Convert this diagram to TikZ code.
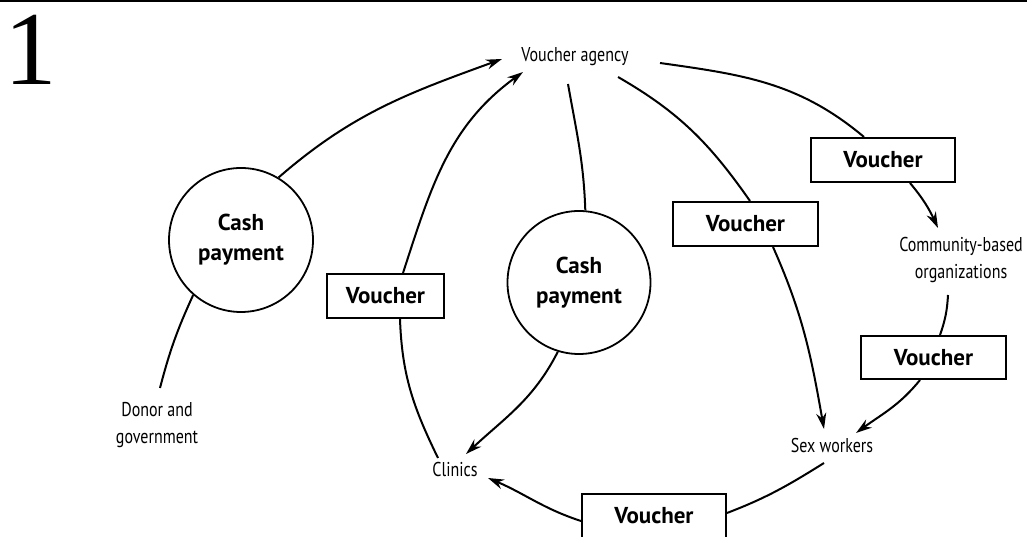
\documentclass[tikz,border=0pt]{standalone}
\usepackage{fontspec}
\newfontfamily\ptsans{PT Sans}
\newfontfamily\labfnt[FakeStretch=0.8]{PT Sans}
\newfontfamily\numfnt{Liberation Serif}
\usetikzlibrary{arrows.meta}
\newcommand\boldlab{\ptsans\bfseries\fontsize{23}{30}\selectfont}
\newcommand\thinlab{\labfnt\fontsize{20}{27}\selectfont}
\tikzset{
  conn/.style={line width=2pt},
  arr/.style={conn,-{Stealth[length=16pt,width=10pt]}},
  vbox/.style={draw,line width=2pt,minimum height=44pt,inner sep=0pt,font=\boldlab},
  cash/.style={draw,circle,line width=1.8pt,inner sep=0pt,align=center,font=\boldlab},
  lab/.style={font=\thinlab,align=center,inner sep=0pt},
}
\begin{document}
\begin{tikzpicture}[x=1pt,y=1pt]
\useasboundingbox (0,0) rectangle (1027,537);
\draw[line width=3pt] (0,536) -- (1027,536);
\node[anchor=base,inner sep=0pt,font=\numfnt\fontsize{105}{105}\selectfont] (num) at (30.5,452) {1};
% nodes
\node[lab] (agency) at (575,480) {Voucher agency};
\node[cash,minimum size=144pt] (cp1) at (241,297) {Cash\\payment};
\node[cash,minimum size=143pt] (cp2) at (579,254.5) {Cash\\payment};
\node[vbox,minimum width=117pt] (vA) at (385.5,241) {Voucher};
\node[vbox,minimum width=145pt] (vB) at (745.5,313) {Voucher};
\node[vbox,minimum width=144pt] (vC) at (883,377) {Voucher};
\node[vbox,minimum width=145pt,minimum height=43pt] (vD) at (933.5,179.5) {Voucher};
\node[vbox,minimum width=144pt] (vE) at (654,21) {Voucher};
\node[lab] (donor) at (157,112) {Donor and\\government};
\node[lab] (clinics) at (455,67) {Clinics};
\node[lab] (sex) at (832,91) {Sex workers};
\node[lab] (cbo) at (961,277) {Community-based\\organizations};
% connectors
\draw[conn] ([shift={(3,37)}]donor.center) to[bend left=5] (cp1.229);
\draw[arr] (cp1.59) to[out=41,in=200] ([shift={(-73,-2)}]agency.center);
\draw[conn] ([shift={(-17,12)}]clinics.center) to[out=116,in=272] ([xshift=14.5]vA.south);
\draw[arr] ([xshift=17.5]vA.north) to[out=72,in=216] ([shift={(-52,-15)}]agency.center);
\draw[conn] ([shift={(-7,-27)}]agency.center) to[out=-80,in=92] (cp2.85);
\draw[arr] (cp2.253) to[out=243,in=43] ([shift={(11,16)}]clinics.center);
\draw[conn] ([shift={(43,-20)}]agency.center) to[out=-30,in=125] ([xshift=4.5]vB.north);
\draw[arr] ([xshift=27.5]vB.south) to[out=-66,in=100] ([shift={(-8,17)}]sex.center);
\draw[conn] ([shift={(85,-6)}]agency.center) to[out=-8,in=140] ([xshift=-19]vC.north);
\draw[arr] ([xshift=27]vC.south) to[out=-50,in=115] ([shift={(-23,32)}]cbo.center);
\draw[conn] ([shift={(-13,-35)}]cbo.center) to[bend left=8] ([xshift=6.5]vD.north);
\draw[arr] ([xshift=-13.5]vD.south) to[out=231,in=36] ([shift={(24,13)}]sex.center);
\draw[conn] ([shift={(-8,-17)}]sex.center) to[out=212,in=21] ([yshift=3]vE.east);
\draw[arr] ([yshift=-5]vE.west) to[out=162,in=-23] ([shift={(33,-8)}]clinics.center);
\end{tikzpicture}
\end{document}
